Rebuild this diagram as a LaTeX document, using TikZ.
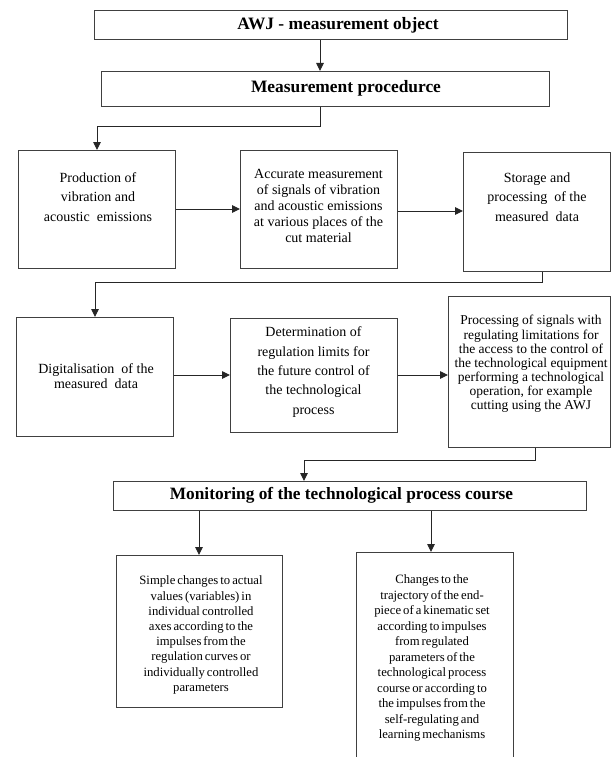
\documentclass[tikz,border=0pt]{standalone}
\usepackage{fontspec}
\setmainfont{Liberation Serif}
\usetikzlibrary{arrows.meta}
\newcommand\mytightsp{\spaceskip=0.16em plus 0.05em\relax}
\tikzset{
  box/.style={draw=black!75, line width=0.9pt, anchor=north west, inner sep=0pt},
  txt/.style={align=center, inner sep=0pt, text=black},
  ttl/.style={txt, font=\bfseries\fontsize{17.4pt}{20pt}\selectfont},
  arr/.style={draw=black!85, line width=0.9pt, -{Triangle[length=8pt,width=7.5pt]}},
}
\begin{document}
\begin{tikzpicture}[x=1pt,y=-1pt]
\useasboundingbox (0,0) rectangle (611,757);
% boxes
\node[box, minimum width=473pt, minimum height=29pt] (b1) at (94,10) {};
\node[box, minimum width=448pt, minimum height=35pt] (b2) at (101,71) {};
\node[box, minimum width=157pt, minimum height=118pt] (b3) at (18,150) {};
\node[box, minimum width=157pt, minimum height=118pt] (b4) at (240,150) {};
\node[box, minimum width=147pt, minimum height=119pt] (b5) at (463,152) {};
\node[box, minimum width=157pt, minimum height=119pt] (b6) at (16,317) {};
\node[box, minimum width=167pt, minimum height=114pt] (b7) at (230,318) {};
\node[box, minimum width=162pt, minimum height=151pt] (b8) at (448,296) {};
\node[box, minimum width=473pt, minimum height=29pt] (b9) at (113,481) {};
\node[box, minimum width=166pt, minimum height=152pt] (b10) at (116,555) {};
\node[box, minimum width=157pt, minimum height=220pt] (b11) at (356,552) {};
% texts
\node[ttl] (t1) at (338,25) {AWJ - measurement object};
\node[ttl] (t2) at (346,88.5) {Measurement procedurce};
\node[txt, font=\fontsize{14pt}{19.3pt}\selectfont] (t3) at (98,197) {Production of\\vibration and\\acoustic\ \ emissions};
\node[txt, font=\fontsize{14pt}{15.8pt}\selectfont] (t4) at (318.5,206) {Accurate measurement\\of signals of vibration\\and acoustic emissions\\at various places of the\\cut material};
\node[txt, font=\fontsize{14pt}{19.3pt}\selectfont] (t5) at (537,197) {Storage and\\processing\ \ of the\\measured\ \ data};
\node[txt, font=\fontsize{14pt}{15.6pt}\selectfont] (t6) at (96,376) {Digitalisation\ \ of the\\measured\ \ data};
\node[txt, font=\fontsize{14pt}{19.3pt}\selectfont] (t7) at (313.5,372) {Determination of\\regulation limits for\\the future control of\\the technological\\process};
\node[txt, font=\fontsize{13.5pt}{14.1pt}\selectfont] (t8) at (531,364) {Processing of signals with\\regulating limitations for\\the access to the control of\\the technological equipment\\performing a technological\\operation, for example\\cutting using the AWJ};
\node[ttl, font=\bfseries\fontsize{17.3pt}{20pt}\selectfont] (t9) at (341.5,495.5) {Monitoring of the technological process course};
\node[txt, font=\fontsize{12.7pt}{15.2pt}\selectfont\mytightsp] (t10) at (201,635) {Simple changes to actual\\values (variables) in\\individual controlled\\axes according to the\\impulses from the\\regulation curves or\\individually controlled\\parameters};
\node[txt, font=\fontsize{12.7pt}{15.5pt}\selectfont\mytightsp] (t11) at (432,658) {Changes to the\\trajectory of the end-\\piece of a kinematic set\\according to impulses\\from regulated\\parameters of the\\technological process\\course or according to\\the impulses from the\\self-regulating and\\learning mechanisms};
% connector coordinates
\coordinate (x1) at (320,0);
\coordinate (k1) at (97,126);
\coordinate (x5) at (542,0);
\coordinate (k2) at (95,282);
\coordinate (x8) at (535,0);
\coordinate (k3) at (304,460);
\coordinate (x10) at (199,0);
\coordinate (x11) at (431,0);
\coordinate (y34) at (0,209);
\coordinate (y45) at (0,211);
\coordinate (y67) at (0,375);
% connectors
\draw[arr] (x1 |- b1.south) -- (x1 |- b2.north);
\draw[arr] (x1 |- b2.south) |- (k1) -- (k1 |- b3.north);
\draw[arr] (b3.east |- y34) -- (b4.west |- y34);
\draw[arr] (b4.east |- y45) -- (b5.west |- y45);
\draw[arr] (x5 |- b5.south) |- (k2) -- (k2 |- b6.north);
\draw[arr] (b6.east |- y67) -- (b7.west |- y67);
\draw[arr] (b7.east |- y67) -- (b8.west |- y67);
\draw[arr] (x8 |- b8.south) |- (k3) -- (k3 |- b9.north);
\draw[arr] (x10 |- b9.south) -- (x10 |- b10.north);
\draw[arr] (x11 |- b9.south) -- (x11 |- b11.north);
\end{tikzpicture}
\end{document}
